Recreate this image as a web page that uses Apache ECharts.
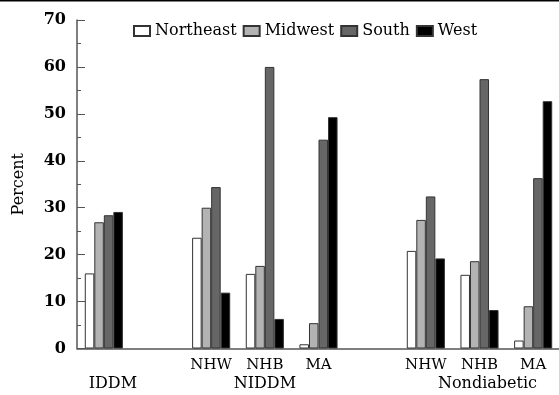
<!DOCTYPE html>
<html>
<head>
<meta charset="utf-8">
<script src="https://cdn.jsdelivr.net/npm/echarts@6/dist/echarts.min.js"></script>
<style>html,body{margin:0;padding:0;background:#fff}#c{width:559px;height:395px}</style>
</head>
<body>
<div id="c"></div>
<script>
var categories = ['IDDM', 'gap1', 'NIDDM NHW', 'NIDDM NHB', 'NIDDM MA', 'gap2', 'Nondiabetic NHW', 'Nondiabetic NHB', 'Nondiabetic MA'];
var subLabels = ['', '', 'NHW', 'NHB', 'MA', '', 'NHW', 'NHB', 'MA'];
var groupLabels = ['IDDM', '', '', 'NIDDM', '', '', '', 'Nondiabetic', ''];
var seriesNames = ['Northeast', 'Midwest', 'South', 'West'];
var northeast = [16.0, null, 23.6, 15.9, 0.9, null, 20.8, 15.7, 1.7];
var midwest   = [26.9, null, 30.0, 17.6, 5.4, null, 27.4, 18.6, 9.0];
var south     = [28.4, null, 34.4, 60.0, 44.5, null, 32.4, 57.4, 36.3];
var west      = [29.1, null, 11.9, 6.3, 49.3, null, 19.2, 8.2, 52.7];
var yTicks = [0, 10, 20, 30, 40, 50, 60, 70];

var colors = ['#ffffff', '#b3b3b3', '#666666', '#000000'];
var values = [northeast, midwest, south, west];
var font = 'DejaVu Serif';

var chart = echarts.init(document.getElementById('c'), null, {renderer: 'canvas'});
chart.setOption({
  animation: false,
  backgroundColor: '#fff',
  graphic: [{type: 'rect', left: 0, top: 0, shape: {width: 559, height: 1.5}, style: {fill: '#000'}}],
  legend: {
    data: seriesNames,
    left: 128, top: 18,
    itemWidth: 16, itemHeight: 10, itemGap: 6,
    icon: 'rect',
    textStyle: {fontFamily: font, fontSize: 16, color: '#000'}
  },
  grid: {left: 77, right: -1, top: 20, bottom: 46.5, containLabel: false, outerBoundsMode: 'none'},
  xAxis: {
    type: 'category',
    data: categories,
    axisLine: {lineStyle: {color: '#555', width: 1.5}},
    axisTick: {show: false},
    axisLabel: {
      interval: 0, margin: 8,
      formatter: function (v, i) {
        var s = '{a|' + (subLabels[i] || ' ') + '}\n';
        if (groupLabels[i] === 'IDDM') s += '{g1|' + groupLabels[i] + '}';
        else if (groupLabels[i] === 'Nondiabetic') s += '{g2|' + groupLabels[i] + '}';
        else if (groupLabels[i]) s += '{g|' + groupLabels[i] + '}';
        return s;
      },
      rich: {
        a: {fontFamily: font, fontSize: 15, color: '#000', lineHeight: 18},
        g: {fontFamily: font, fontSize: 16, color: '#000', lineHeight: 18},
        g1: {fontFamily: font, fontSize: 16, color: '#000', lineHeight: 18, padding: [0, 0, 0, 18]},
        g2: {fontFamily: font, fontSize: 16, color: '#000', lineHeight: 18, padding: [0, 0, 0, 16]}
      }
    }
  },
  yAxis: {
    type: 'value',
    min: 0, max: 70, interval: 10,
    name: 'Percent',
    nameLocation: 'middle',
    nameGap: 50,
    nameTextStyle: {fontFamily: font, fontSize: 16, color: '#000'},
    axisLine: {show: true, lineStyle: {color: '#555', width: 1.5}},
    axisTick: {show: true, inside: true, length: 8, lineStyle: {color: '#555'}},
    minorTick: {show: true, splitNumber: 2, length: 4, lineStyle: {color: '#555'}},
    splitLine: {show: false},
    axisLabel: {
      margin: 11, fontFamily: font, fontSize: 16, fontWeight: 'bold', color: '#000',
      formatter: function (v) { return yTicks.indexOf(v) >= 0 ? String(v) : ''; }
    }
  },
  series: seriesNames.map(function (n, k) {
    return {
      name: n, type: 'bar', data: values[k],
      barGap: '0%', barCategoryGap: '29%',
      itemStyle: {color: colors[k], borderColor: '#333', borderWidth: 1}
    };
  })
});
</script>
</body>
</html>
